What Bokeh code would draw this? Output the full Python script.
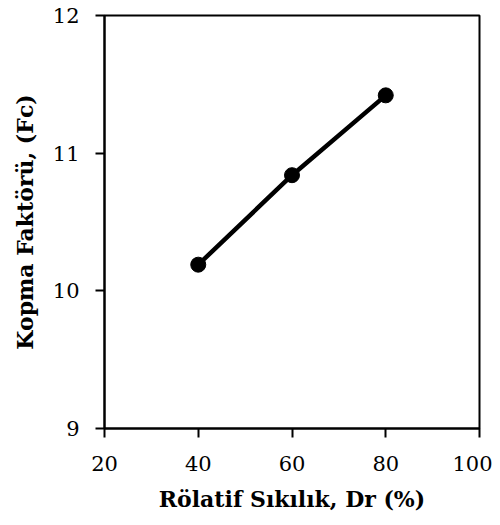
from bokeh.plotting import figure
from bokeh.models import Range1d, FixedTicker
from bokeh.embed import file_html
from bokeh.resources import INLINE

dr = [40, 60, 80]
fc = [10.19, 10.84, 11.42]
x_ticks = [20, 40, 60, 80, 100]
y_ticks = [9, 10, 11, 12]

FONT = "DejaVu Serif"

p = figure(width=492, height=516, output_backend="svg", toolbar_location=None,
           x_range=Range1d(20, 100), y_range=Range1d(9, 12),
           min_border_left=104, min_border_right=13, min_border_top=15, min_border_bottom=88)
p.outline_line_color = "black"
p.outline_line_width = 2
p.grid.visible = False

p.line(dr, fc, line_color="black", line_width=4.5)
p.scatter(dr, fc, size=15, fill_color="black", line_color="black")

for ax, ticks in ((p.xaxis, x_ticks), (p.yaxis, y_ticks)):
    ax.ticker = FixedTicker(ticks=ticks)
    ax.axis_line_width = 2
    ax.major_tick_line_width = 2
    ax.major_tick_in = 0
    ax.major_tick_out = 9
    ax.minor_tick_line_color = None
    ax.major_label_text_font = FONT
    ax.major_label_text_font_size = "21px"
    ax.major_label_text_color = "black"
    ax.axis_label_text_font = FONT
    ax.axis_label_text_font_size = "22px"
    ax.axis_label_text_font_style = "bold"
    ax.axis_label_text_color = "black"

p.xaxis.axis_label = "Rölatif Sıkılık, Dr (%)"
p.yaxis.axis_label = "Kopma Faktörü, (Fc)"
p.xaxis.major_label_standoff = 18
p.xaxis.axis_label_standoff = 12
p.yaxis.major_label_standoff = 16
p.yaxis.axis_label_standoff = 12

open("out.html", "w").write(file_html(p, INLINE))
